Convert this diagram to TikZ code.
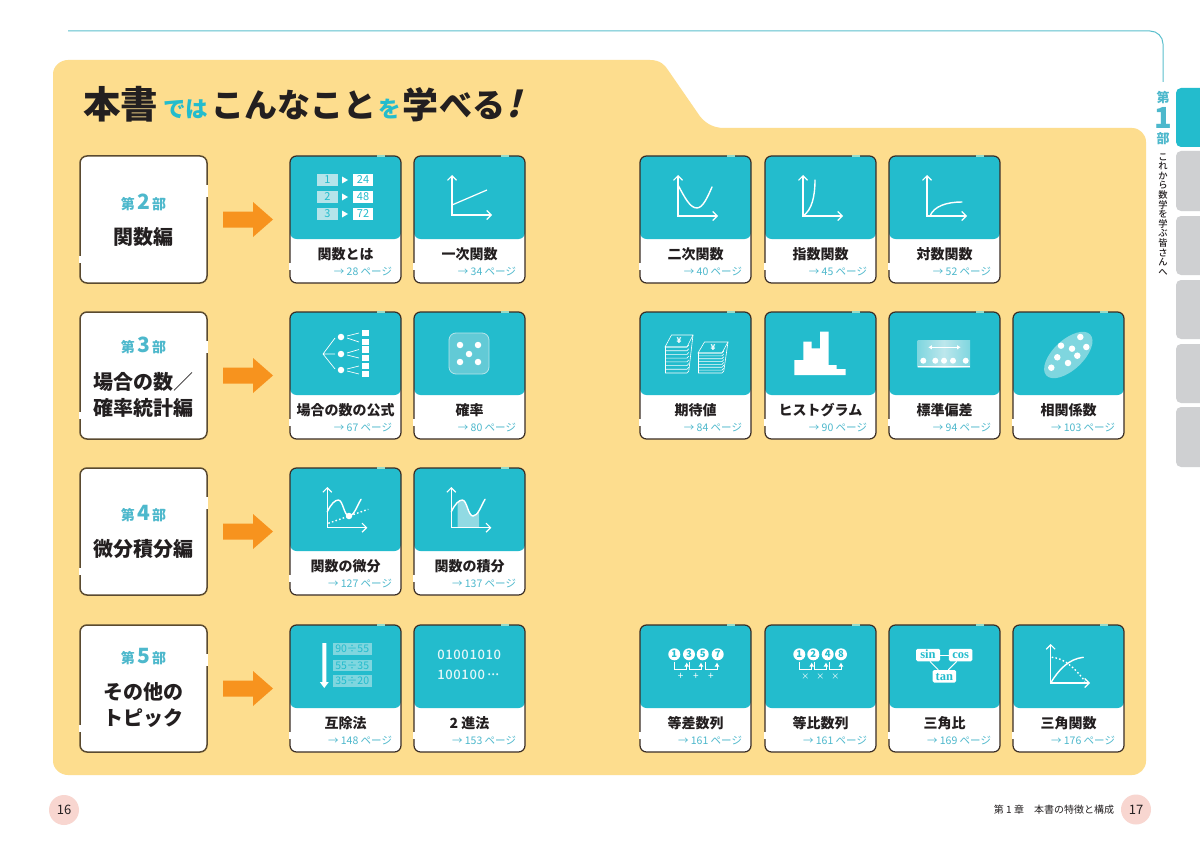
\documentclass[tikz,border=0pt]{standalone}
\usepackage{fontspec}
\setmainfont{Noto Sans CJK JP}
\newfontfamily\blackf{Noto Sans CJK JP Black}
\newfontfamily\medf{Noto Sans CJK JP Medium}
\newfontfamily\serifb{Liberation Serif}
\usetikzlibrary{arrows.meta,calc}
\definecolor{tealc}{HTML}{23BCCD}
\definecolor{tealt}{HTML}{4DB8CC}
\definecolor{tealm}{HTML}{7FD6DF}
\definecolor{teald}{HTML}{62CAD6}
\definecolor{teall}{HTML}{B5E4EA}
\definecolor{yellowb}{HTML}{FDDD8E}
\definecolor{orangea}{HTML}{F7931E}
\definecolor{inkc}{HTML}{231F20}
\definecolor{brownb}{HTML}{5A4A30}
\definecolor{grayt}{HTML}{CFD0D2}
\definecolor{pinkc}{HTML}{F8D6D0}
\definecolor{lineb}{HTML}{5BBFCD}
\definecolor{notch}{HTML}{9ADCC9}
\tikzset{
  txt/.style={inner sep=0pt,outer sep=0pt,text=inkc},
  cardbox/.style={draw=inkc!85!brown,line width=1.2pt,fill=white,rounded corners=6.5pt,inner sep=0pt,outer sep=0pt,minimum width=111pt,minimum height=127pt,
    path picture={\fill[tealc] (path picture bounding box.north west) rectangle ([yshift=-83pt]path picture bounding box.north east);}},
  partbox/.style={draw=brownb,line width=1.5pt,fill=white,rounded corners=7pt,inner sep=0pt,outer sep=0pt,minimum width=127pt,minimum height=127pt},
  wl/.style={draw=white,line width=1pt},
  axisl/.style={draw=white,line width=1.1pt,{Straight Barb[length=4.5pt,width=9pt]}-{Straight Barb[length=4.5pt,width=9pt]}},
  curvel/.style={draw=white,line width=1.4pt,line cap=round},
  dotl/.style={draw=white,line width=1.4pt,dash pattern=on 1.6pt off 2.2pt},
  wd/.style={fill=white,circle,inner sep=0pt,minimum size=6.5pt},
  tabg/.style={fill=grayt,rounded corners=5pt},
  seqc/.style={fill=white,circle,inner sep=0pt,minimum size=12pt,text=tealc,font=\fontsize{9.5}{9.5}\selectfont\bfseries},
  tribox/.style={fill=white,rounded corners=1.5pt,inner sep=0pt,minimum height=12.5pt,text height=7.5pt,text depth=0pt,text=tealc,font=\serifb\fontsize{12.5}{12.5}\selectfont\bfseries},
}
\newcommand\cardp[6]{%
  \node[cardbox] (#1) at (#2+55.5,#3+63.5) {};
  \begin{scope}[shift={(#2,#3)}]
    \draw[white,line width=1.8pt] (0,107) -- (0,114);
    \draw[notch,line width=1.6pt] (87,0) -- (95,0);
    \node[txt,font=\fontsize{14}{14}\selectfont\bfseries] (#1t) at (55.5,98) {#4};
    \node[txt,anchor=east,text=tealt,font=\fontsize{10.5}{10.5}\selectfont] (#1p) at (102,116) {→ #5 ページ};
    #6
  \end{scope}}
\newcommand\partb[6]{%
  \node[partbox] (#1) at (143.5,#2+63.5) {};
  \draw[white,line width=2pt] (207,#2+29) -- (207,#2+41);
  \draw[white,line width=2pt] (80,#2+100) -- (80,#2+107);
  \node[txt,text=tealt,font=\fontsize{14}{14}\selectfont\bfseries] (#1a) at (143.5,#2+#4) {第\,{\fontsize{21}{21}\selectfont #3}\,部};
  \node[txt,align=center,font=\fontsize{20}{26}\selectfont\bfseries] (#1b) at (143.5,#2+#5) {#6};
  \fill[orangea] ([xshift=16pt,yshift=8pt]#1.east) -- ++(30pt,0pt) -- ++(0pt,9.5pt) -- ([xshift=66pt]#1.east) -- ([xshift=46pt,yshift=-17.5pt]#1.east) -- ([xshift=46pt,yshift=-8pt]#1.east) -- ([xshift=16pt,yshift=-8pt]#1.east) -- cycle;}
\newcommand\stackp[6]{% x0 x1 x2 ytop ymid ybot
  \draw[wl,line width=0.6pt] (#1+6.5,#4) -- (#3,#4) -- (#2,#5) -- (#1,#5) -- cycle;
  \foreach \yy in {0,...,7}{\pgfmathsetmacro\yv{#5+(#6-#5)*\yy/7}
    \draw[wl,line width=0.6pt] (#1,\yv) -- (#2,\yv) -- (#2+1.8,\yv-2);}
  \draw[wl,line width=0.6pt] (#1,#5) -- (#1,#6);
  \draw[wl,line width=0.6pt] (#3,#4) -- (#2+1.8,#6-2);}
\newcommand\seqbr[2]{%
  \draw[white,line width=1pt,-{Latex[length=4pt,width=5pt]}] (#1,36.5) -- (#1,44.7) -- (#2,44.7) -- (#2,37.5);}
\begin{document}
\begin{tikzpicture}[x=1pt,y=-1pt]
\useasboundingbox (0,0) rectangle (1200,856);
\fill[white] (0,0) rectangle (1200,856);
% top rule
\draw[lineb,line width=1pt] (68,31) -- (1150,31) .. controls (1157.2,31) and (1163,36.8) .. (1163,44) -- (1163,82);
% background
\fill[yellowb] (53,74) .. controls (53,66.3) and (60.3,60) .. (68,60) -- (650,60)
  .. controls (660,60) and (665,65) .. (668,70) -- (697,112) .. controls (703,122) and (712,128) .. (724,128)
  -- (1132,128) .. controls (1139.7,128) and (1146,134.3) .. (1146,142) -- (1146,761)
  .. controls (1146,768.7) and (1139.7,775) .. (1132,775) -- (68,775)
  .. controls (60.3,775) and (53,768.7) .. (53,761) -- cycle;
% title
\node[txt,anchor=base west,font=\blackf\fontsize{37.5}{37.5}\selectfont] (t1) at (83,119) {本書};
\node[txt,anchor=base west,text=tealc,font=\blackf\fontsize{22.5}{22.5}\selectfont] (t2) at (163,118) {では};
\node[txt,anchor=base west,font=\blackf\fontsize{33}{33}\selectfont] (t3) at (211,118) {こんなこと};
\node[txt,anchor=base west,text=tealc,font=\blackf\fontsize{22.5}{22.5}\selectfont] (t4) at (378,118) {を};
\node[txt,anchor=base west,font=\blackf\fontsize{36}{36}\selectfont] (t5) at (402,119) {学};
\node[txt,anchor=base west,font=\blackf\fontsize{33}{33}\selectfont] (t6) at (439,118) {べる};
\node[txt,anchor=base west,xslant=0.25,font=\blackf\fontsize{36}{36}\selectfont] (t7) at (506,118) {!};
% side tab
\fill[tealc,rounded corners=5pt] (1176,88) rectangle (1215,147);
\foreach \ya/\yb in {151/211,216/275,280/339,344/403,407/467} \fill[tabg] (1176,\ya) rectangle (1215,\yb);
\node[txt,text=tealt,font=\fontsize{13}{13}\selectfont\bfseries] (s1) at (1163,97) {第};
\node[txt,text=tealt,font=\fontsize{29}{29}\selectfont\bfseries] (s2) at (1163,118) {1};
\node[txt,text=tealt,font=\fontsize{13}{13}\selectfont\bfseries] (s3) at (1163,139) {部};
\node[txt,anchor=north,align=center,font=\medf\fontsize{9.3}{9.6}\selectfont] (s4) at (1163,153.5) {こ\\れ\\か\\ら\\数\\学\\を\\学\\ぶ\\皆\\さ\\ん\\へ};
% part boxes
\partb{pa}{156}{2}{46}{81}{関数編}
\partb{pb}{312}{3}{33}{83}{場合の数{\mdseries／}\\確率統計編}
\partb{pc}{468}{4}{46}{81}{微分積分編}
\partb{pd}{625}{5}{32}{80}{その他の\\トピック}
% ---- row 1
\cardp{c11}{290}{156}{関数とは}{28}{
  \foreach \yy/\aa/\bb in {18/1/24,35/2/48,52/3/72}{
    \fill[teall] (27,\yy) rectangle (48,\yy+12);
    \node[txt,text=tealc,font=\fontsize{11}{11}\selectfont] at (37.5,\yy+6) {\aa};
    \fill[white] (52,\yy+2.5) -- (58,\yy+6) -- (52,\yy+9.5) -- cycle;
    \fill[white] (63,\yy) rectangle (83,\yy+12);
    \node[txt,text=tealc,font=\fontsize{11}{11}\selectfont] at (73,\yy+6) {\bb};
  }}
\cardp{c12}{414}{156}{一次関数}{34}{
  \draw[axisl] (38,19) -- (38,59) -- (78,59);
  \draw[wl,line width=1.2pt] (38,49) -- (73,34);}
\cardp{c13}{640}{156}{二次関数}{40}{
  \draw[axisl] (38,19) -- (38,60) -- (78,60);
  \draw[curvel] (38,29) .. controls (45,42) and (50,52) .. (57,52) .. controls (63,52) and (68,40) .. (72,31);}
\cardp{c14}{765}{156}{指数関数}{45}{
  \draw[axisl] (38,19) -- (38,60) -- (78,60);
  \draw[curvel] (38,60) .. controls (47,54) and (50,40) .. (50,24);}
\cardp{c15}{889}{156}{対数関数}{52}{
  \draw[axisl] (38,19) -- (38,60) -- (78,60);
  \draw[curvel] (41,60) .. controls (45,50) and (58,46) .. (73,46);}
% ---- row 2
\cardp{c21}{290}{312}{場合の数の公式}{67}{
  \foreach \yy in {21,30,37.5,46,54,62} \fill[white] (72,\yy-3.2) rectangle (78.5,\yy+3.2);
  \foreach \yy/\ya/\yb in {25/21/30,42/37.5/46,58/54/62}{
    \node[wd] at (51,\yy) {};
    \draw[wl,line width=0.7pt] (57,\yy-1) -- (69,\ya);
    \draw[wl,line width=0.7pt] (57,\yy+1) -- (69,\yb);}
  \draw[wl,line width=0.7pt] (33,42) -- (45,26) (33,42) -- (45,42) (33,42) -- (45,57);}
\cardp{c22}{414}{312}{確率}{80}{
  \draw[draw=teall,fill=teald,line width=0.8pt,rounded corners=7pt] (35,21) rectangle (75,62);
  \foreach \xx/\yy in {46/33,64/33,55/42,46/50,64/50} \node[wd] at (\xx,\yy) {};}
\cardp{c23}{640}{312}{期待値}{84}{
  \stackp{25}{47}{53}{23}{35}{61}
  \node[txt,text=white,font=\fontsize{8}{8}\selectfont\bfseries] at (39,29) {¥};
  \stackp{58}{82}{88}{30}{41}{61}
  \node[txt,text=white,font=\fontsize{8}{8}\selectfont\bfseries] at (73,36) {¥};}
\cardp{c24}{765}{312}{ヒストグラム}{90}{
  \fill[white] (29.3,63) -- (29.3,48) -- (38.3,48) -- (38.3,29.7) -- (46.7,29.7) -- (46.7,36.3) -- (55,36.3) -- (55,19.7) -- (63.7,19.7) -- (63.7,53) -- (71.7,53) -- (71.7,57) -- (80.7,57) -- (80.7,63) -- cycle;}
\cardp{c25}{889}{312}{標準偏差}{94}{
  \shade[left color=tealm,right color=tealm,middle color=teall!90!white] (28.7,28) rectangle (81,55);
  \draw[wl,{Latex[length=3.5pt,width=4.5pt]}-{Latex[length=3.5pt,width=4.5pt]}] (39.3,35.3) -- (71.7,35.3);
  \foreach \xx in {34.3,46.3,55,64,76.7} \node[wd,minimum size=6pt] at (\xx,48.7) {};
  \draw[wl] (28.7,54.3) -- (81,54.3);}
\cardp{c26}{1013}{312}{相関係数}{103}{
  \fill[tealm,rotate around={43:(55.3,43)}] (55.3,43) ellipse[x radius=30,y radius=15];
  \foreach \xx/\yy in {67.3/25,48/33.7,59/36.7,73.3/35,44.3/45.3,64.3/43.7,55/51,38.3/55.7} \node[wd] at (\xx,\yy) {};}
% ---- row 3
\cardp{c31}{290}{468}{関数の微分}{127}{
  \draw[axisl] (37.3,19) -- (37.3,59.7) -- (77.3,59.7);
  \draw[curvel] (37.3,43.7) .. controls (41,36) and (45,32) .. (48.3,32) .. controls (53,32) and (54,48) .. (59,48) .. controls (64,48) and (67,38) .. (71,31.3);
  \draw[dotl] (38.3,55.3) -- (78.3,41.3);
  \node[wd] at (59,48) {};}
\cardp{c32}{414}{468}{関数の積分}{137}{
  \fill[teall!75!tealc] (43.7,59.7) -- (43.7,35) .. controls (45,33) and (47,32) .. (48.3,32) .. controls (53,32) and (54,48) .. (59,48) .. controls (61,48) and (63,45) .. (65,42) -- (65,59.7) -- cycle;
  \draw[axisl] (37.3,19) -- (37.3,59.7) -- (77.3,59.7);
  \draw[curvel] (37.3,43.7) .. controls (41,36) and (45,32) .. (48.3,32) .. controls (53,32) and (54,48) .. (59,48) .. controls (64,48) and (67,38) .. (71,31.3);}
% ---- row 4
\cardp{c41}{290}{625}{互除法}{148}{
  \fill[white] (32.3,18) rectangle (36.3,57) (29.8,57) -- (38.8,57) -- (34.3,63) -- cycle;
  \foreach \ya/\yb/\tx in {18/30.3/90÷55,34.7/46.3/55÷35,50.3/62/35÷20}{
    \fill[tealm] (42.7,\ya) rectangle (81.7,\yb);
    \node[txt,text=tealc,font=\fontsize{10.5}{10.5}\selectfont] at (62.2,\ya/2+\yb/2) {\tx};}}
\cardp{c42}{414}{625}{2 進法}{153}{
  \node[txt,anchor=west,text=white!88!tealc,font=\medf\fontsize{13}{13}\selectfont] (c42a) at (23.3,30.3) {\addfontfeature{LetterSpace=5}01001010};
  \node[txt,anchor=west,text=white!88!tealc,font=\medf\fontsize{13}{13}\selectfont] (c42b) at (23.3,50.3) {\addfontfeature{LetterSpace=5}100100·\kern-3.5pt·\kern-3.5pt·};}
\cardp{c43}{640}{625}{等差数列}{161}{
  \node[seqc] at (34.3,29.3) {1}; \node[seqc] at (49,29.3) {3};
  \node[seqc] at (62.7,29.3) {5}; \node[seqc] at (77.7,29.3) {7};
  \seqbr{34.3}{46.7} \seqbr{49.5}{61} \seqbr{65}{77}
  \foreach \xx in {40.7,56,71} \node[txt,text=white,font=\fontsize{10}{10}\selectfont] at (\xx,51.7) {+};}
\cardp{c44}{765}{625}{等比数列}{161}{
  \node[seqc] at (34.3,29.3) {1}; \node[seqc] at (48.3,29.3) {2};
  \node[seqc] at (62.7,29.3) {4}; \node[seqc] at (76,29.3) {8};
  \seqbr{34.3}{46.7} \seqbr{49.5}{61} \seqbr{64}{76}
  \foreach \xx in {40.3,55.3,70.3} \node[txt,text=white,font=\fontsize{8}{8}\selectfont] at (\xx,51.7) {×};}
\cardp{c45}{889}{625}{三角比}{169}{
  \node[tribox,minimum width=24pt] (trs) at (39,30) {sin};
  \node[tribox,minimum width=23.5pt] (trc) at (71.7,30) {cos};
  \node[tribox,minimum width=23.5pt] (trt) at (55.3,51.3) {tan};
  \draw[wl] (trs) -- (trc);
  \draw[wl] ([xshift=2pt]trs.south) -- ([xshift=-6pt]trt.north);
  \draw[wl] ([xshift=-4pt]trc.south) -- ([xshift=4pt]trt.north);}
\cardp{c46}{1013}{625}{三角関数}{176}{
  \draw[axisl] (37.7,19) -- (37.7,58) -- (77,58);
  \draw[curvel] (37.7,58) .. controls (46,44) and (56,34) .. (70.3,32.3);
  \draw[dotl] (38.7,32.3) .. controls (48,33) and (58,38) .. (72,56.3);}
% footer
\node[circle,fill=pinkc,minimum size=30pt,inner sep=0pt,text=inkc,font=\fontsize{13}{13}\selectfont] (p16) at (64,810) {16};
\node[circle,fill=pinkc,minimum size=30pt,inner sep=0pt,text=inkc,font=\fontsize{13}{13}\selectfont] (p17) at (1136,809.5) {17};
\node[txt,anchor=east,font=\fontsize{10}{10}\selectfont] (ft) at (1114,810) {第 1 章\hspace{1em}本書の特徴と構成};
\end{tikzpicture}
\end{document}
